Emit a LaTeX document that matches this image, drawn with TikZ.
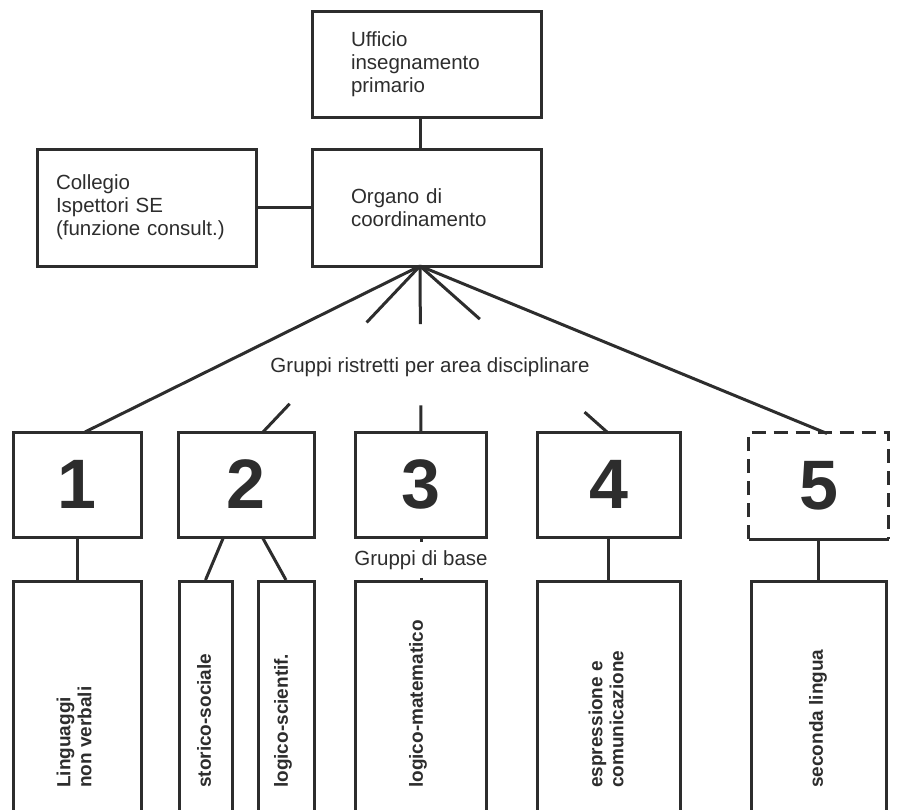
\documentclass[tikz,border=0pt]{standalone}
\usepackage{fontspec}
\setmainfont{Liberation Sans}
\usepackage{tikz}
\usetikzlibrary{positioning,calc}
\definecolor{ink}{RGB}{45,45,45}

\begin{document}
\begin{tikzpicture}[
    x=1pt, y=-1pt,
    every node/.style={text=ink},
    line/.style={draw=ink, line width=3pt},
    office/.style={rectangle, draw=ink, line width=3pt, align=left, inner ysep=0pt, font=\fontsize{20.5}{23}\selectfont},
    group/.style={rectangle, draw=ink, line width=3pt, minimum height=105pt, inner sep=0pt, font=\bfseries\fontsize{70}{70}\selectfont},
    base/.style={rectangle, draw=ink, line width=3pt, minimum height=250pt, inner sep=0pt},
    vlabel/.style={rotate=90, anchor=west, align=left, inner sep=0pt, font=\bfseries\fontsize{19}{21}\selectfont},
    caption/.style={font=\fontsize{20.5}{23}\selectfont}
]
    \useasboundingbox (0,0) rectangle (902,809);

    % top: office and coordination
    \node[office, text width=151pt, inner xsep=39pt, minimum height=106pt] (ufficio) at (426.5,64) {Ufficio\\insegnamento\\primario};
    \node[office, text width=151pt, inner xsep=39pt, minimum height=117pt] (organo) at (426.5,207.5) {Organo di\\coordinamento};
    \node[office, text width=181pt, inner xsep=19pt, minimum height=117pt] (collegio) at (146.5,207.5) {Collegio\\Ispettori SE\\(funzione consult.)};
    \coordinate (fan) at (420,266);

    \draw[line] (fan |- ufficio.south) -- (fan |- organo.north);
    \draw[line] (collegio) -- (organo);

    % restricted groups
    \node[caption] (ristretti) at (430,367) {Gruppi ristretti per area disciplinare};
    \node[group, minimum width=128pt] (b1) at (77,484.5) {1};
    \node[group, minimum width=136pt] (b2) at (246,484.5) {2};
    \node[group, minimum width=131pt] (b3) at (420.5,484.5) {3};
    \node[group, minimum width=143pt] (b4) at (608.5,484.5) {4};
    \node[group, draw=none, minimum width=137pt, minimum height=104pt] (b5) at (818.5,485.5) {5};
    \draw[line, dash pattern=on 14pt off 8pt] (b5.south west) -- (b5.north west) -- (b5.north east) -- (b5.south east);
    \draw[line] (b5.south west) -- (b5.south east);

    \coordinate (t1) at (85,432);
    \coordinate (t2) at (263,432);
    \coordinate (t3) at (421,432);
    \coordinate (t4) at (607,432);
    \coordinate (t5) at (827,433.5);
    \draw[line] (fan) -- (t1);
    \draw[line] (fan) -- (t5);
    \foreach \t/\a/\b in {t2/0.34/0.83, t3/0.35/0.84, t4/0.32/0.88} {
        \draw[line] (fan) -- ($(fan)!\a!(\t)$);
        \draw[line] ($(fan)!\b!(\t)$) -- (\t);
    }

    % base groups
    \node[base, minimum width=128pt, below=41pt of b1] (l1) {};
    \node[base, minimum width=53pt, anchor=north] (l2a) at (205.5,580) {};
    \node[base, minimum width=56pt, anchor=north] (l2b) at (286,580) {};
    \node[base, minimum width=131pt, below=41pt of b3] (l3) {};
    \node[base, minimum width=143pt, below=41pt of b4] (l4) {};
    \node[base, minimum width=135pt, below=41pt of b5] (l5) {};
    \node[caption, inner ysep=8pt] (gruppibase) at (421,560) {Gruppi di base};

    \draw[line] (b1.south) -- (l1.north);
    \draw[line] ($(b2.south)+(-23,0)$) -- (l2a.north);
    \draw[line] ($(b2.south)+(17,0)$) -- (l2b.north);
    \draw[line] (b3.south -| gruppibase) -- (gruppibase);
    \draw[line] (gruppibase) -- (l3.north -| gruppibase);
    \draw[line] (b4.south) -- (l4.north);
    \draw[line] (b5.south) -- (l5.north);

    \node[vlabel] (lab1) at (74,788) {Linguaggi\\non verbali};
    \node[vlabel] (lab2a) at (204,788) {storico-sociale};
    \node[vlabel] (lab2b) at (283,788) {logico-scientif.};
    \node[vlabel] (lab3) at (418,788) {logico-matematico};
    \node[vlabel] (lab4) at (606,788) {espressione e\\comunicazione};
    \node[vlabel] (lab5) at (818,788) {seconda lingua};
\end{tikzpicture}
\end{document}
